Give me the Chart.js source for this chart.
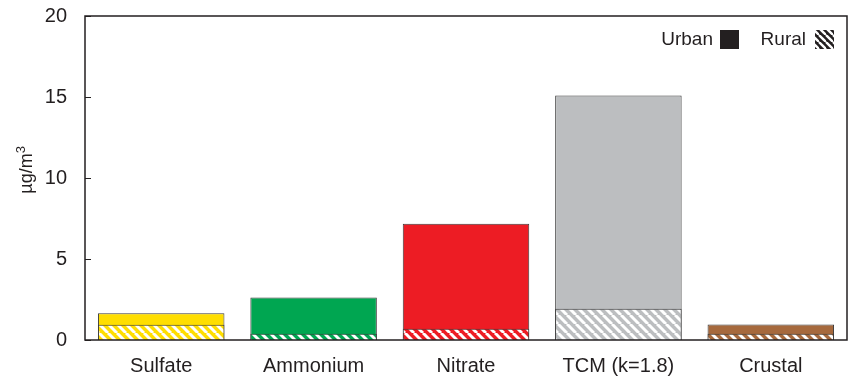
<!DOCTYPE html>
<html>
<head>
<meta charset="utf-8">
<script src="https://cdn.jsdelivr.net/npm/chart.js@4.4.1/dist/chart.umd.min.js"></script>
<style>
  html, body { margin: 0; padding: 0; background: #fff; }
  #wrap { width: 851px; height: 379px; }
</style>
</head>
<body>
<div id="wrap"><canvas id="pmChart"></canvas></div>
<script>
var categories = ['Sulfate', 'Ammonium', 'Nitrate', 'TCM (k=1.8)', 'Crustal'];
var urbanValues = [1.65, 2.62, 7.18, 15.1, 0.96];
var ruralValues = [0.94, 0.38, 0.7, 1.93, 0.38];
var yTicks = [0, 5, 10, 15, 20];
var colors = ['#ffde00', '#00a651', '#ed1c24', '#bcbec0', '#a6693d'];

var FONT = '"Liberation Sans", Arial, Helvetica, sans-serif';
var EDGE = '#3a3a3a';

// diagonal white stripes on a colour
function hatch(color, size, stripe) {
    var c = document.createElement('canvas');
    c.width = size;
    c.height = size;
    var g = c.getContext('2d');
    g.fillStyle = color;
    g.fillRect(0, 0, size, size);
    g.strokeStyle = '#fff';
    g.lineWidth = stripe;
    [-size, 0, size].forEach(function (k) {
        g.beginPath();
        g.moveTo(k, 0);
        g.lineTo(k + size, size);
        g.stroke();
    });
    return g.createPattern(c, 'repeat');
}

var ruralFills = colors.map(function (c) { return hatch(c, 9, 3); });

var framePlugin = {
    id: 'frame',
    afterDraw: function (chart) {
        var ctx = chart.ctx;
        var a = chart.chartArea;
        var y = chart.scales.y;
        ctx.save();
        // plot box
        ctx.strokeStyle = '#231f20';
        ctx.lineWidth = 1.5;
        ctx.strokeRect(a.left, a.top, a.right - a.left, a.bottom - a.top);
        // inward ticks
        ctx.lineWidth = 1;
        yTicks.forEach(function (v) {
            var py = Math.round(y.getPixelForValue(v)) + 0.5;
            ctx.beginPath();
            ctx.moveTo(a.left, py);
            ctx.lineTo(a.left + 6, py);
            ctx.stroke();
        });
        // y title with superscript
        ctx.fillStyle = '#231f20';
        ctx.translate(32, 169);
        ctx.rotate(-Math.PI / 2);
        ctx.font = '18px ' + FONT;
        ctx.textBaseline = 'alphabetic';
        var main = 'µg/m';
        var w = ctx.measureText(main).width;
        var sw = 9;
        ctx.fillText(main, -(w + sw) / 2, 0);
        ctx.font = '13px ' + FONT;
        ctx.fillText('3', -(w + sw) / 2 + w, -7);
        ctx.restore();

        // legend
        ctx.save();
        ctx.font = '19px ' + FONT;
        ctx.fillStyle = '#231f20';
        ctx.textAlign = 'right';
        ctx.textBaseline = 'middle';
        ctx.fillText('Urban', 713, 40);
        ctx.fillRect(720, 30, 19, 19);
        ctx.fillText('Rural', 806, 40);
        ctx.fillStyle = hatch('#231f20', 7, 2.4);
        ctx.fillRect(815, 30, 19, 19);
        ctx.restore();
    }
};

var ctx = document.getElementById('pmChart').getContext('2d');
new Chart(ctx, {
    type: 'bar',
    data: {
        labels: categories,
        datasets: [{
            label: 'Rural',
            data: ruralValues,
            backgroundColor: ruralFills,
            borderColor: EDGE,
            borderWidth: 1,
            order: 0
        }, {
            label: 'Urban',
            data: urbanValues,
            backgroundColor: colors,
            borderColor: EDGE,
            borderWidth: 1,
            order: 1
        }]
    },
    options: {
        responsive: true,
        maintainAspectRatio: false,
        animation: false,
        layout: { padding: { top: 16, right: 4, left: 0, bottom: 0 } },
        datasets: {
            bar: { categoryPercentage: 0.83, barPercentage: 1 }
        },
        plugins: {
            legend: { display: false },
            tooltip: { enabled: false }
        },
        scales: {
            x: {
                stacked: true,
                grid: { display: false },
                border: { display: false },
                ticks: {
                    color: '#231f20',
                    padding: 6,
                    font: { family: FONT, size: 20 }
                },
                afterFit: function (s) {
                    s.height = 39;
                    s.paddingLeft = 0;
                    s.paddingRight = 0;
                }
            },
            y: {
                stacked: false,
                min: 0,
                max: 20,
                grid: { display: false, drawTicks: false },
                border: { display: false },
                ticks: {
                    stepSize: 5,
                    padding: 18,
                    color: '#231f20',
                    font: { family: FONT, size: 20 }
                },
                afterFit: function (s) {
                    s.width = 85;
                    s.paddingTop = 0;
                    s.paddingBottom = 0;
                }
            }
        }
    },
    plugins: [framePlugin]
});
</script>
</body>
</html>
